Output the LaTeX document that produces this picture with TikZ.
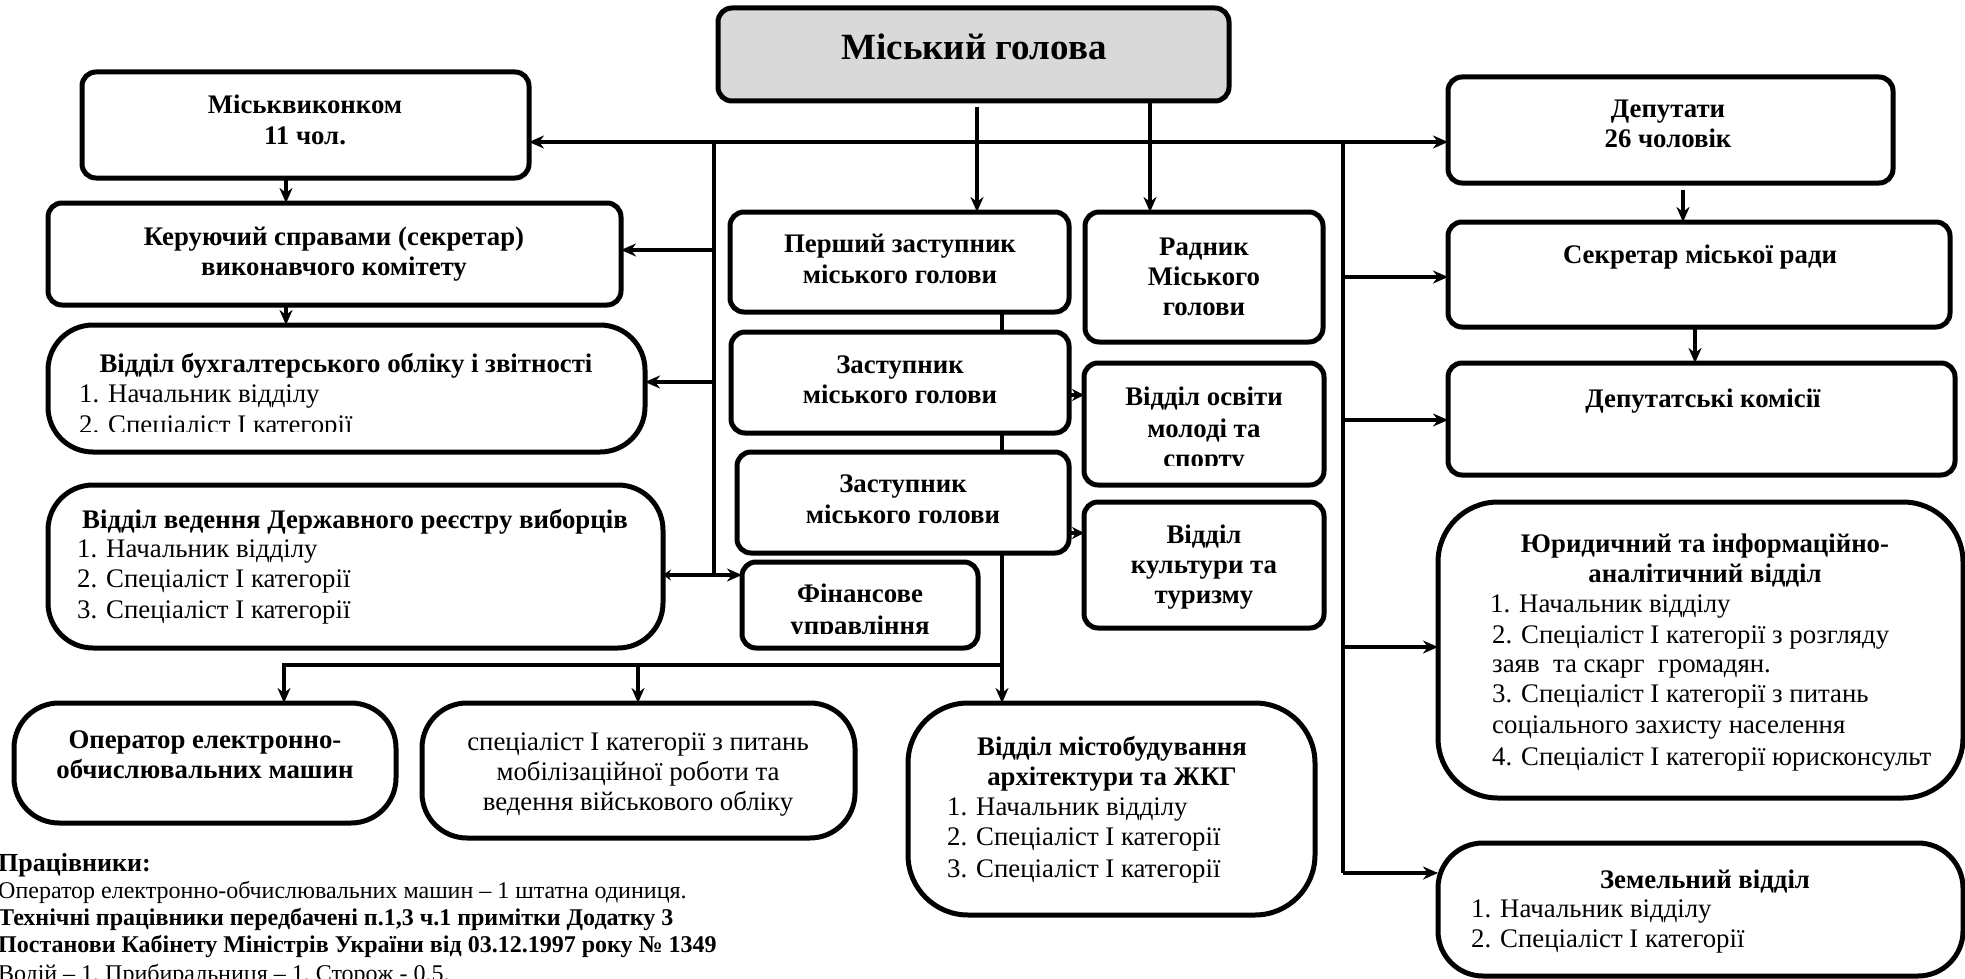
\documentclass[tikz,border=0pt]{standalone}
\usepackage{fontspec}
\setmainfont{Liberation Serif}
\usetikzlibrary{arrows.meta}
\definecolor{mayorgray}{RGB}{217,217,217}
\newcommand\btf{\fontsize{26.8}{30.5}\selectfont\bfseries}
\newcommand\rtf{\fontsize{26.8}{30.5}\selectfont}
\newcommand\ftf{\fontsize{24}{27}\selectfont}
\begin{document}
\begin{tikzpicture}[x=1pt,y=-1pt,
  sbox/.style={draw, line width=5pt, rounded corners=14pt, inner sep=0pt, outer sep=0pt, fill=white},
  bbox/.style={sbox, rounded corners=45pt},
  btxt/.style={inner sep=0pt, anchor=base, font=\btf},
  rtxt/.style={inner sep=0pt, anchor=base, font=\rtf},
  ltxt/.style={inner sep=0pt, anchor=base west, font=\rtf},
  ftxt/.style={inner sep=0pt, anchor=base west, font=\ftf},
  conn/.style={line width=4.5pt},
  arr/.style={conn, -{Stealth[length=15pt,width=13pt]}},
  arrb/.style={conn, {Stealth[length=15pt,width=13pt]}-{Stealth[length=15pt,width=13pt]}}
]
\useasboundingbox (0,0) rectangle (1965,979);

% ---------- boxes ----------
\node[sbox, fill=mayorgray, minimum width=511pt, minimum height=93pt] (mayor) at (973.5,54.5) {};
\node[sbox, minimum width=447pt, minimum height=106pt] (vykonkom) at (305.5,125) {};
\node[sbox, minimum width=573pt, minimum height=102pt] (keruy) at (334.5,254) {};
\node[bbox, minimum width=597pt, minimum height=127pt] (buh) at (346.5,388.5) {};
\node[bbox, minimum width=615pt, minimum height=163pt] (vedennya) at (355.5,566.5) {};
\node[bbox, minimum width=382pt, minimum height=120pt] (operator) at (205,763) {};
\node[bbox, minimum width=433pt, minimum height=135pt] (spec) at (638.5,770.5) {};
\node[sbox, minimum width=339pt, minimum height=100pt] (pershyi) at (899.5,262) {};
\node[sbox, minimum width=338pt, minimum height=101pt] (zast1) at (900,382.5) {};
\node[sbox, minimum width=332pt, minimum height=101pt] (zast2) at (903,502.5) {};
\node[sbox, minimum width=236pt, minimum height=86pt] (finans) at (860,605) {};
\node[sbox, minimum width=238pt, minimum height=130pt] (radnyk) at (1204,277) {};
\node[sbox, minimum width=240pt, minimum height=122pt] (osvita) at (1204,424) {};
\node[sbox, minimum width=240pt, minimum height=126pt] (kultura) at (1204,565) {};
\node[bbox, rounded corners=60pt, minimum width=407pt, minimum height=212pt] (misto) at (1111.5,809) {};
\node[sbox, minimum width=445pt, minimum height=106pt] (deputaty) at (1670.5,130) {};
\node[sbox, minimum width=502pt, minimum height=105pt] (sekretar) at (1699,274.5) {};
\node[sbox, minimum width=507pt, minimum height=112pt] (komisii) at (1701.5,419) {};
\node[bbox, rounded corners=60pt, minimum width=525pt, minimum height=296pt] (yur) at (1700.5,650) {};
\node[bbox, minimum width=525pt, minimum height=133pt] (zemel) at (1700.5,909.5) {};

% ---------- texts ----------
\node[btxt, font=\fontsize{37}{44}\selectfont\bfseries] (tmayor) at (974,60) {Міський голова};
\node[btxt] (tv1) at (305,114) {Міськвиконком};
\node[btxt] (tv2) at (305,145) {11 чол.};
\node[btxt] (tk1) at (334,245) {Керуючий справами (секретар)};
\node[btxt] (tk2) at (334,275) {виконавчого комітету};
\node[btxt] (tb1) at (346,372) {Відділ бухгалтерського обліку і звітності};
\node[ltxt] (tb2) at (79,402) {1. Начальник відділу};
\begin{scope}
  \clip (50,405) rectangle (640,431);
  \node[ltxt] (tb3) at (79,433) {2. Спеціаліст І категорії};
\end{scope}
\node[btxt] (te1) at (355,528) {Відділ ведення Державного реєстру виборців};
\node[ltxt] (te2) at (77,557) {1. Начальник відділу};
\node[ltxt] (te3) at (77,587) {2. Спеціаліст І категорії};
\node[ltxt] (te4) at (77,618) {3. Спеціаліст І категорії};
\node[btxt] (tp1) at (900,252) {Перший заступник};
\node[btxt] (tp2) at (900,283) {міського голови};
\node[btxt] (tr1) at (1204,255) {Радник};
\node[btxt] (tr2) at (1204,285) {Міського};
\node[btxt] (tr3) at (1204,315) {голови};
\node[btxt] (tz1) at (900,373) {Заступник};
\node[btxt] (tz2) at (900,403) {міського голови};
\node[btxt] (tz3) at (903,492) {Заступник};
\node[btxt] (tz4) at (903,523) {міського голови};
\node[btxt] (tf1) at (860,602) {Фінансове};
\begin{scope}
  \clip (745,610) rectangle (975,633);
  \node[btxt] (tf2) at (860,634) {управління};
\end{scope}
\node[btxt] (to1) at (1204,405) {Відділ освіти};
\node[btxt] (to2) at (1204,437) {молоді та};
\begin{scope}
  \clip (1090,440) rectangle (1320,465);
  \node[btxt] (to3) at (1204,467) {спорту};
\end{scope}
\node[btxt] (tc1) at (1204,543) {Відділ};
\node[btxt] (tc2) at (1204,573) {культури та};
\node[btxt] (tc3) at (1204,603) {туризму};
\node[btxt] (tm1) at (1112,755) {Відділ містобудування};
\node[btxt] (tm2) at (1112,785) {архітектури та ЖКГ};
\node[ltxt] (tm3) at (947,815) {1. Начальник відділу};
\node[ltxt] (tm4) at (947,845) {2. Спеціаліст І категорії};
\node[ltxt] (tm5) at (947,877) {3. Спеціаліст І категорії};
\node[btxt] (td1) at (1668,118) {Депутати};
\node[btxt] (td2) at (1668,148) {26 чоловік};
\node[btxt] (ts1) at (1700,263) {Секретар міської ради};
\node[btxt] (tk) at (1703,407) {Депутатські комісії};
\node[btxt] (ty1) at (1705,552) {Юридичний та інформаційно-};
\node[btxt] (ty2) at (1705,582) {аналітичний відділ};
\node[ltxt] (ty3) at (1490,612) {1. Начальник відділу};
\node[ltxt] (ty4) at (1492,643) {2. Спеціаліст І категорії з розгляду};
\node[ltxt] (ty5) at (1492,672) {заяв~ та скарг~ громадян.};
\node[ltxt] (ty6) at (1492,702) {3. Спеціаліст І категорії з питань};
\node[ltxt] (ty7) at (1492,733) {соціального захисту населення};
\node[ltxt] (ty8) at (1492,765) {4. Спеціаліст І категорії юрисконсульт};
\node[btxt] (tzm1) at (1705,888) {Земельний відділ};
\node[ltxt] (tzm2) at (1471,917) {1. Начальник відділу};
\node[ltxt] (tzm3) at (1471,947) {2. Спеціаліст І категорії};
\node[btxt] (top1) at (205,748) {Оператор електронно-};
\node[btxt] (top2) at (205,778) {обчислювальних машин};
\node[rtxt] (tsp1) at (638,750) {спеціаліст І категорії з питань};
\node[rtxt] (tsp2) at (638,780) {мобілізаційної роботи та};
\node[rtxt] (tsp3) at (638,810) {ведення військового обліку};

% footer
\node[ftxt, font=\fontsize{26}{30}\selectfont\bfseries] (f1) at (-2,871) {Працівники:};
\node[ftxt] (f2) at (-2,898) {Оператор електронно-обчислювальних машин – 1 штатна одиниця.};
\node[ftxt, font=\ftf\bfseries] (f3) at (-2,925) {Технічні працівники передбачені п.1,3 ч.1 примітки Додатку 3};
\node[ftxt, font=\ftf\bfseries] (f4) at (-2,952) {Постанови Кабінету Міністрів України від 03.12.1997 року № 1349};
\node[ftxt] (f5) at (-2,981) {Водій – 1, Прибиральниця – 1, Сторож - 0,5.};

% ---------- connectors ----------
\coordinate (rT) at (1343,142);
\coordinate (rB) at (1343,873);
\coordinate (lT) at (714,142);
\coordinate (lB) at (714,575);
\draw[arrb] (vykonkom.east |- rT) -- (deputaty.west |- rT);
\draw[conn] (lT) -- (lB);
\draw[conn] (rT) -- (rB);

\coordinate (m1) at (977,107);
\coordinate (m2) at (1150,101);
\draw[arr] (m1) -- (m1 |- pershyi.north);
\draw[arr] (m2) -- (m2 |- radnyk.north);

\coordinate (bK) at (714,250);
\coordinate (bB) at (714,382);
\draw[arr] (bK) -- (bK -| keruy.east);
\draw[arr] (bB) -- (bB -| buh.east);
\draw[conn, -{Stealth[length=8pt,width=11pt]}] (lB) -- (lB -| vedennya.east);
\draw[arr] (lB) -- (lB -| finans.west);

\coordinate (vk) at (286,0);
\draw[arr] (vykonkom.south -| vk) -- (keruy.north -| vk);
\draw[arr] (keruy.south -| vk) -- (buh.north -| vk);

\coordinate (rS) at (1343,277);
\coordinate (rK) at (1343,420);
\coordinate (rY) at (1343,647);
\draw[arr] (rS) -- (rS -| sekretar.west);
\draw[arr] (rK) -- (rK -| komisii.west);
\draw[arr] (rY) -- (rY -| yur.west);
\draw[arr] (rB) -- (rB -| zemel.west);

\coordinate (ds) at (1683,0);
\coordinate (sk) at (1695,0);
\draw[arr] (deputaty.south -| ds) ++(0,7) -- (sekretar.north -| ds);
\draw[arr] (sekretar.south -| sk) -- (komisii.north -| sk);

\coordinate (z1) at (0,395);
\coordinate (z2) at (0,533);
\draw[conn, -{Stealth[length=12pt,width=12pt]}] (z1 -| zast1.east) -- (z1 -| osvita.west);
\draw[conn, -{Stealth[length=12pt,width=12pt]}] (z2 -| zast2.east) -- (z2 -| kultura.west);

\coordinate (cx) at (1002,0);
\coordinate (hb) at (284,665);
\coordinate (hs) at (638,665);
\draw[conn] (pershyi.south -| cx) -- (zast1.north -| cx);
\draw[conn] (zast1.south -| cx) -- (zast2.north -| cx);
\draw[arr] (zast2.south -| cx) -- (misto.north -| cx);
\draw[arr] (hb -| cx) -- (hb) -- (hb |- operator.north);
\draw[arr] (hs) -- (hs |- spec.north);
\end{tikzpicture}
\end{document}
